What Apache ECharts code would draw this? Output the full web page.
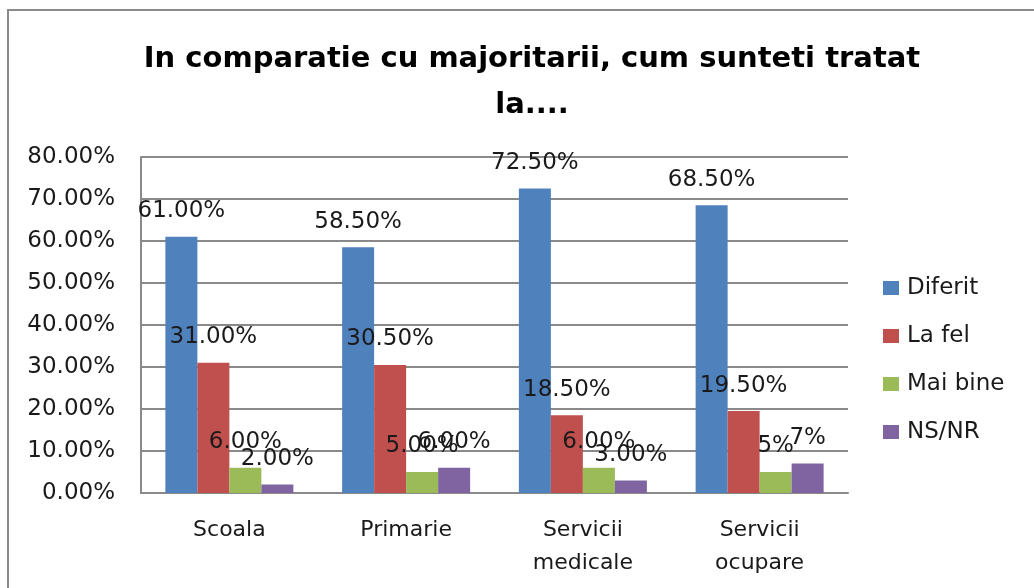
<!DOCTYPE html>
<html>
<head>
<meta charset="utf-8">
<script src="https://cdn.jsdelivr.net/npm/echarts@6/dist/echarts.min.js"></script>
<style>
  html, body { margin: 0; padding: 0; background: #fff; }
  #frame { position: absolute; left: 7px; top: 9px; width: 1100px; height: 600px;
           border-left: 2px solid #8a8a8a; border-top: 2px solid #8a8a8a; }
  #main { position: absolute; left: 0; top: 0; width: 1034px; height: 588px; }
</style>
</head>
<body>
<div id="frame"></div>
<div id="main"></div>
<script>
// categorii si valori (procente)
const categories = ['Scoala', 'Primarie', 'Servicii\nmedicale', 'Servicii\nocupare'];
const diferit = [61, 58.5, 72.5, 68.5];
const laFel = [31, 30.5, 18.5, 19.5];
const maiBine = [6, 5, 6, 5];
const nsNr = [2, 6, 3, 7];
// etichetele asa cum apar in grafic
const diferitLabels = ['61.00%', '58.50%', '72.50%', '68.50%'];
const laFelLabels = ['31.00%', '30.50%', '18.50%', '19.50%'];
const maiBineLabels = ['6.00%', '5.00%', '6.00%', '5%'];
const nsNrLabels = ['2.00%', '6.00%', '3.00%', '7%'];
const yTicks = [0, 10, 20, 30, 40, 50, 60, 70, 80];

const font = 'DejaVu Sans';

function makeSeries(name, values, labels, color) {
  return {
    name: name,
    type: 'bar',
    data: values,
    barWidth: 32,
    barGap: '0%',
    itemStyle: { color: color },
    label: {
      show: true,
      position: 'top',
      distance: 14,
      fontFamily: font,
      fontSize: 23,
      color: '#1a1a1a',
      formatter: p => labels[p.dataIndex]
    }
  };
}

let myChart = echarts.init(document.getElementById('main'));
let option = {
  animation: false,
  title: {
    text: 'In comparatie cu majoritarii, cum sunteti tratat\nla....',
    left: 527,
    textAlign: 'center',
    top: 31,
    textStyle: {
      fontFamily: font,
      fontWeight: 'bold',
      fontSize: 29,
      lineHeight: 46,
      color: '#000'
    }
  },
  legend: {
    orient: 'vertical',
    left: 883,
    top: 275,
    padding: 0,
    itemWidth: 16,
    itemHeight: 14,
    itemGap: 22,
    icon: 'rect',
    textStyle: { fontFamily: font, fontSize: 23, lineHeight: 26, color: '#1a1a1a', padding: [0, 0, 0, 3] }
  },
  grid: { left: 141, right: 186, top: 157, bottom: 95 },
  xAxis: {
    type: 'category',
    data: categories,
    axisTick: { show: false },
    axisLine: { lineStyle: { color: '#8a8a8a', width: 2 } },
    axisLabel: {
      margin: 21,
      fontFamily: font,
      fontSize: 22,
      lineHeight: 33,
      color: '#1a1a1a'
    }
  },
  yAxis: {
    type: 'value',
    min: yTicks[0],
    max: yTicks[yTicks.length - 1],
    interval: 10,
    axisLine: { show: true, lineStyle: { color: '#8a8a8a', width: 2 } },
    axisTick: { show: false },
    splitLine: { lineStyle: { color: '#8a8a8a', width: 2 } },
    axisLabel: {
      margin: 26,
      fontFamily: font,
      fontSize: 23,
      color: '#1a1a1a',
      formatter: v => v.toFixed(2) + '%'
    }
  },
  series: [
    makeSeries('Diferit', diferit, diferitLabels, '#4F81BD'),
    makeSeries('La fel', laFel, laFelLabels, '#C0504D'),
    makeSeries('Mai bine', maiBine, maiBineLabels, '#9BBB59'),
    makeSeries('NS/NR', nsNr, nsNrLabels, '#8064A2')
  ]
};
myChart.setOption(option);
</script>
</body>
</html>
